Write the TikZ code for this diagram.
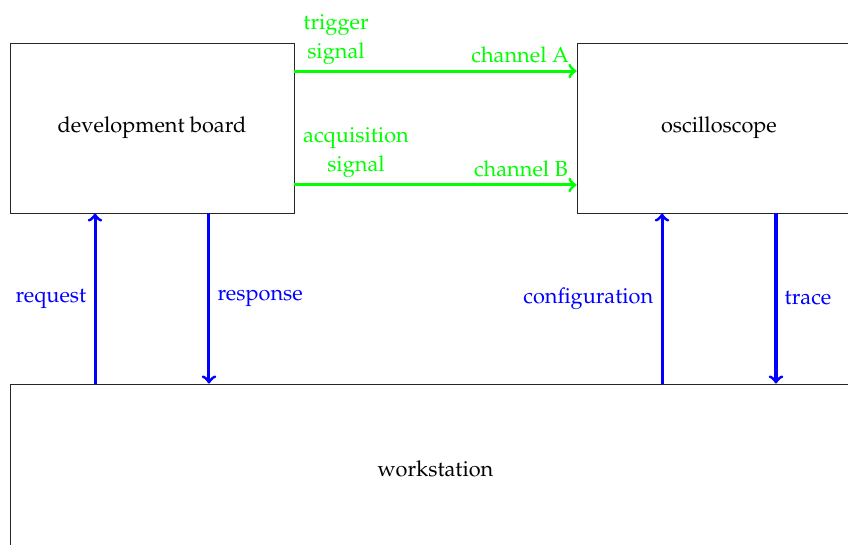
\documentclass[tikz,border=0pt]{standalone}
\usepackage[T1]{fontenc}
\usepackage{mathpazo}
\usetikzlibrary{calc}
\definecolor{sigcol}{RGB}{0,255,0}
\definecolor{datacol}{RGB}{0,0,255}
\tikzset{
  unit/.style={draw=black!85, thin, minimum width=130.64pt, minimum height=78.2pt, inner sep=0pt},
  sigline/.style={->, draw=sigcol, line width=1.4pt},
  dataline/.style={->, draw=datacol, line width=1.4pt},
  siglabel/.style={text=sigcol, align=center},
  datalabel/.style={text=datacol},
}
\begin{document}
\begin{tikzpicture}[x=0.46pt, y=-0.46pt]
  \useasboundingbox (0,0) rectangle (848,544);
  \begin{scope}
    \clip (0,0) rectangle (848,544);
    % the three units
    \node[unit] (dev) at (152,128) {development board};
    \node[unit] (osc) at (719,128) {oscilloscope};
    \node[unit, minimum width=391.46pt] (ws) at (435.5,469) {workstation};

    % signal lines from the board to the scope
    \coordinate (a1) at ($(dev.north east)!1/6!(dev.south east)$);
    \coordinate (a2) at ($(osc.north west)!1/6!(osc.south west)$);
    \coordinate (b1) at ($(dev.north east)!5/6!(dev.south east)$);
    \coordinate (b2) at ($(osc.north west)!5/6!(osc.south west)$);
    \draw[sigline] (a1) -- (a2);
    \draw[sigline] (b1) -- (b2);
    \node[siglabel] (trig) at (336,39.5) {trigger\\[1.4pt]signal};
    \node[siglabel] (acq) at (356,152.5) {acquisition\\[1.4pt]signal};
    \node[siglabel, anchor=south east, inner sep=1pt] (chA) at ($(a2)+(-5,-5)$) {channel A};
    \node[siglabel, anchor=south east, inner sep=1pt] (chB) at ($(b2)+(-6,-5)$) {channel B};

    % data links between the units and the workstation
    \coordinate (r1) at ($(dev.south west)!0.3!(dev.south east)$);
    \coordinate (r2) at ($(dev.south west)!0.7!(dev.south east)$);
    \coordinate (c1) at ($(osc.south west)!0.3!(osc.south east)$);
    \coordinate (c2) at ($(osc.south west)!0.7!(osc.south east)$);
    \draw[dataline] (r1 |- ws.north) -- node[datalabel, left] {request} (r1);
    \draw[dataline] (r2) -- node[datalabel, right] {response} (r2 |- ws.north);
    \draw[dataline] (c1 |- ws.north) -- node[datalabel, left] {configuration} (c1);
    \draw[dataline] (c2) -- node[datalabel, right] {trace} (c2 |- ws.north);
  \end{scope}
\end{tikzpicture}
\end{document}
